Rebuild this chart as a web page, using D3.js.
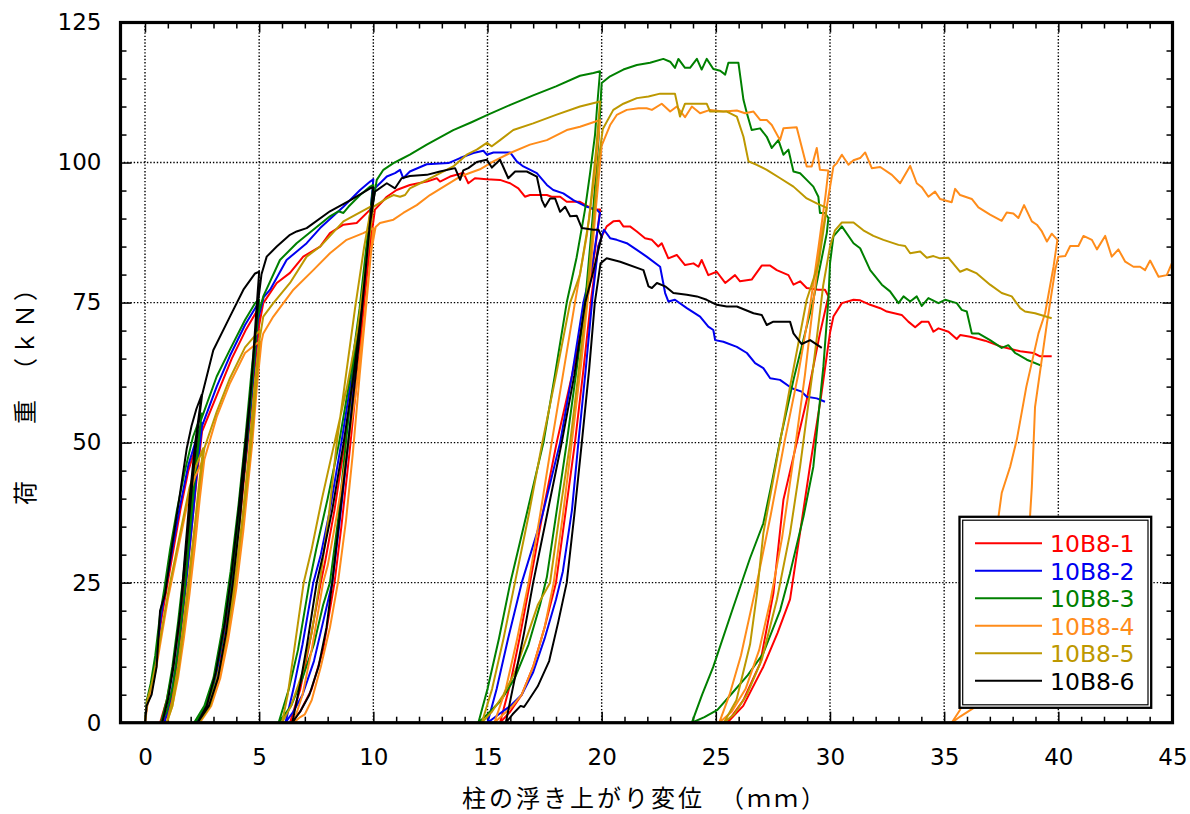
<!DOCTYPE html>
<html><head><meta charset="utf-8">
<script src="https://cdn.jsdelivr.net/npm/d3@7"></script>
<style>body{margin:0;background:#fff}svg{display:block}</style>
</head><body>
<svg id="chart" width="1190" height="814"></svg>
<script>
// ---------- data ----------
const seriesNames = ["10B8-1","10B8-2","10B8-3","10B8-4","10B8-5","10B8-6"];
const seriesColors = ["#ff0000","#0000f0","#008000","#ff8c1a","#bd9800","#000000"];
const xTickValues = [0,5,10,15,20,25,30,35,40,45];
const yTickValues = [0,25,50,75,100,125];
const xTitle = "柱の浮き上がり変位　（ｍｍ）";
const yTitle = "荷　　重　（ｋＮ）";

const load_10B8_1 = [[0,0],[0.1,4],[0.3,7],[0.5,12],[0.7,18],[0.95,24],[1.25,31],[1.55,38],[1.9,45],[2.2,49],[2.5,52],
[2.3,45],[2.1,37],[1.9,29],[1.7,21],[1.45,12],[1.2,5],[0.95,1],[0.66,0],
[0.95,4],[1.2,9],[1.45,16],[1.7,24],[1.95,33],[2.2,42],[2.5,52],
[3.2,59],[3.8,65],[4.4,70],[4.9,73.5],[5.0,74],
[4.85,66],[4.6,54],[4.35,44],[4.05,33],[3.75,23],[3.4,14],[3.0,7],[2.6,2],[2.25,0],
[2.75,3],[3.15,8],[3.5,16],[3.85,26],[4.2,38],[4.5,50],[4.75,61],[5.0,71],[5.18,74.9],
[5.77,78.5],[6.35,80.3],[6.93,83.2],[7.67,85],[8.1,87.4],[8.69,88.9],[9.27,89.2],[9.86,91.6],[9.95,92],
[9.75,83],[9.45,71],[9.1,60],[8.75,50],[8.3,38],[7.9,29],[7.7,25],[7.2,14],[6.8,6],[6.35,0],
[6.8,2],[7.3,6],[7.8,13],[8.3,25],[8.6,35],[8.95,48],[9.3,62],[9.6,75],[9.85,85],[10.07,91.6],
[10.59,93.9],[11.02,95.1],[11.6,96],[12.34,96.6],[12.78,97.2],[12.92,96.6],[13.36,97.5],[13.8,98],[13.94,98.2],[14.16,96.3],[14.45,97.2],[14.97,97],[15.55,96.9],[15.99,96.3],[16.35,95.4],[16.64,93.9],[16.86,94.2],[17.6,94.2],[17.81,93.9],[18.18,93.9],[18.47,93],[19.05,93],[19.64,91.6],[19.93,91.6],
[19.7,84],[19.35,75],[18.7,62],[18.03,50],[17.4,37],[16.86,25],[16.4,15],[16.0,7],[15.55,0],
[16.0,2],[16.5,5],[17.0,10],[17.5,17],[18.0,25],[18.4,37],[18.83,50],[19.2,63],[19.55,76],[19.85,85],[20.0,86.8],[20.22,88.6],
[20.51,89.5],[20.78,89.6],[20.95,88.6],[21.24,88.6],[21.54,87.7],[21.9,86.5],[22.2,86.2],[22.48,85],[22.63,85.6],[22.92,82.9],[23.29,83.5],[23.65,81.7],[24.02,82],[24.24,81.4],[24.38,82.6],[24.67,79.9],[25.04,80.5],[25.41,78.5],[25.84,79.9],[26.06,78.8],[26.57,79.1],[27.01,81.6],[27.38,81.6],[27.67,80.8],[28.18,79.9],[28.4,78.2],[28.69,78.8],[28.98,77.6],[29.49,77.3],[29.78,77.3],[29.93,76.1],
[29.56,69.5],[28.98,57.6],[28.4,47.5],[27.96,39.8],[27.52,23.1],[26.94,10.6],[26.2,4],[25.5,0],
[26.2,3],[27.08,10],[27.7,16],[28.25,22],[28.69,34],[29.13,46],[29.6,58],[30.0,69.6],[30.15,72.5],[30.52,74.9],
[31.03,75.5],[31.32,75.4],[31.76,74.6],[32.2,74],[32.49,73.4],[33.14,72.8],[33.43,71.6],[33.73,70.6],[34.02,71.6],[34.31,71.6],[34.53,69.8],[34.75,70.4],[35.19,69.8],[35.55,68.5],[35.7,69.2],[36.14,68.9],[36.79,68.2],[37.52,67.1],[38.33,66.3],[38.91,66],[39.2,65.4],[39.71,65.4]];

const load_10B8_2 = [[0,0],[0.1,4],[0.3,7],[0.5,12],[0.7,19],[0.9,24],[1.2,31],[1.5,38],[1.9,46],[2.2,50],[2.48,53.5],
[2.25,45],[2.0,35],[1.8,26],[1.6,18],[1.35,10],[1.1,4],[0.85,0],
[1.1,4],[1.35,10],[1.6,18],[1.85,27],[2.1,37],[2.3,46],[2.5,53],
[3.14,60],[3.72,65.5],[4.38,71],[4.9,74.5],[5.0,75],
[4.85,67],[4.6,55],[4.35,45],[4.05,34],[3.75,24],[3.4,15],[3.0,7],[2.6,2],[2.2,0],
[2.7,3],[3.1,8],[3.45,16],[3.8,26],[4.15,38],[4.45,50],[4.7,61],[4.95,72],[5.2,76],
[5.48,77.3],[6.2,82.6],[7.08,85.6],[7.67,88.3],[8.69,92.1],[9.42,95.1],[9.86,96.6],[10.0,97],
[9.8,88],[9.5,76],[9.1,63],[8.6,50],[8.1,38],[7.7,30],[7.37,25],[6.9,14],[6.5,6],[6.15,0],
[6.5,2],[6.9,5],[7.4,11],[7.8,18],[8.2,25],[8.5,35],[8.85,48],[9.2,62],[9.55,77],[9.8,88],[10.07,95.4],
[10.59,97.5],[10.95,98.1],[11.17,98.7],[11.31,97.2],[11.6,98.4],[12.34,99.7],[13.29,99.9],[13.8,100.8],[14.38,101.7],[14.82,102.1],[14.97,101.4],[15.26,101.8],[15.99,101.8],[16.28,100.2],[16.57,99.3],[17.16,98.1],[17.6,96],[17.88,95.1],[18.32,94.5],[18.76,93.3],[19.35,92.1],[19.78,91.6],[19.93,91],
[19.6,82],[19.2,75],[18.7,62],[18.18,50],[17.4,37],[16.5,25],[15.9,15],[15.4,6],[15.0,0],
[15.5,1.5],[16.0,3],[16.5,5],[17.0,9],[17.5,15],[18.0,22],[18.3,27],[18.7,38],[18.98,50],[19.3,63],[19.6,76],[19.85,85],[20.1,88],[20.37,86.5],
[20.66,86.2],[21.1,85.6],[21.54,84.4],[21.97,83.2],[22.56,81.4],[22.78,76.7],[22.92,75.2],[23.21,75.5],[23.73,74],[24.31,72.5],[24.67,70.7],[24.89,70.1],[24.97,68.3],[25.33,68],[25.92,67.1],[26.36,66],[26.72,64.2],[27.08,63.3],[27.38,61.5],[27.81,61.2],[28.33,59.7],[28.76,59.1],[28.98,58.2],[29.42,57.9],[29.78,57.3]];

const load_10B8_3 = [[0,0],[0.08,4],[0.25,7],[0.45,12],[0.65,19],[0.85,24],[1.1,31],[1.4,38],[1.75,45],[2.1,51],[2.48,55.2],
[2.3,48],[2.1,40],[1.9,31],[1.7,22],[1.45,13],[1.2,6],[0.95,2],[0.7,0],
[0.95,4],[1.2,10],[1.45,18],[1.7,27],[1.95,37],[2.2,46],[2.45,54],
[3.14,61.8],[3.72,66.6],[4.38,71.9],[4.82,74.9],[5.0,75.5],
[4.85,68],[4.6,56],[4.35,45],[4.05,34],[3.7,23],[3.35,14],[2.95,6],[2.5,1.5],[2.15,0],
[2.6,3],[3.0,8],[3.4,17],[3.75,27],[4.1,39],[4.4,51],[4.65,62],[4.9,72],[5.18,76.1],
[5.91,82.6],[6.64,85.6],[7.37,88],[8.1,90.4],[8.47,91.3],[8.69,91],[8.91,92.1],[9.42,94.2],[9.86,95.7],[10.0,96],
[9.75,87],[9.4,74],[9.0,62],[8.5,50],[8.0,40],[7.5,31],[7.2,25],[6.7,13],[6.3,6],[5.85,0],
[6.4,3],[6.9,8],[7.4,14],[7.8,21],[8.1,25],[8.45,36],[8.75,48],[9.1,62],[9.45,75],[9.75,87],[10.15,96.9],
[10.44,98.7],[10.88,99.9],[11.17,100.5],[11.6,101.4],[12.34,103.2],[13.5,105.8],[14.3,107.2],[15.0,108.5],[16.0,110.3],[17.0,112],[18.0,113.6],[19.05,115.5],[19.64,116],[19.93,116.3],
[19.8,110],[19.71,105],[19.49,98],[19.27,91.6],[18.9,83],[18.47,75],[17.95,62],[17.45,50],[16.7,37],[16.0,25],[15.5,15],[15.0,6],[14.6,0],
[15.0,1.5],[15.6,4],[16.2,8],[16.8,14],[17.3,21],[17.6,26],[18.0,37],[18.47,50],[18.9,63],[19.3,76],[19.6,90],[19.86,104],[20.0,114.2],[20.37,115.4],
[20.95,116.6],[21.54,117.4],[22.12,117.8],[22.7,118.5],[23,118],[23.21,116.9],[23.36,118.5],[23.65,116.9],[23.87,116.9],[24.17,118.5],[24.38,116.6],[24.6,118.5],[24.89,116.7],[25.19,116.4],[25.41,115.7],[25.55,117.8],[25.99,117.8],[26.21,111.2],[26.36,108.8],[26.57,105.8],[26.94,106.1],[27.23,104.6],[27.45,102.6],[27.74,104],[27.96,101.4],[28.18,102.3],[28.4,98.4],[28.69,98.1],[28.98,96.9],[29.27,95.7],[29.49,93.9],[29.56,91],[29.78,91],[29.93,90.1],
[29.86,87.4],[29.27,75.5],[28.4,61.2],[27.82,50.5],[27.45,42.8],[27.08,35.6],[26.5,29.4],[25.77,20.7],[24.89,10],[24.4,5],[23.95,0],
[24.5,1],[25.07,2.3],[25.72,5.3],[26.4,8.5],[27.08,12.4],[27.82,20.1],[28.25,26.7],[28.84,36.8],[29.27,45.7],[29.71,63.6],[29.93,75.5],[30.0,82],[30.15,86.8],
[30.52,88.6],[31.03,85.6],[31.32,84.7],[31.76,80.8],[32.27,78.2],[32.63,77],[33,74.9],[33.22,76.1],[33.51,75.2],[33.8,76.1],[34.02,74.4],[34.31,75.8],[34.75,74.9],[35.04,75.5],[35.55,74.9],[35.77,73.7],[35.99,73.4],[36.21,69.5],[36.5,69.5],[37.01,68.3],[37.52,66.9],[37.81,67.4],[38.11,66],[38.62,64.8],[39.28,63.7]];

const load_10B8_4 = [[0,0],[0.1,3],[0.3,6],[0.5,10],[0.75,16],[1.0,22],[1.3,28],[1.6,34],[1.9,40],[2.2,44],[2.55,47],
[2.35,40],[2.15,32],[1.95,24],[1.7,15],[1.45,8],[1.2,3],[0.95,0],
[1.2,3],[1.45,8],[1.7,15],[1.95,23],[2.2,32],[2.4,40],[2.6,47],
[3.14,54.6],[3.72,60.6],[4.38,66],[4.89,67.7],[5.05,68],
[4.9,60],[4.7,50],[4.45,40],[4.15,30],[3.85,21],[3.5,13],[3.1,6],[2.7,2],[2.4,0],
[2.9,3],[3.3,8],[3.65,15],[4.0,24],[4.3,34],[4.6,46],[4.85,58],[5.1,68],[5.18,69.5],
[5.62,72.5],[6.5,77.3],[7.37,80.8],[8.1,83.8],[8.83,86.2],[9.56,87.4],[9.86,88],[10.0,88.3],
[9.8,80],[9.55,70],[9.2,58],[8.8,47],[8.4,37],[8.0,28],[7.8,25],[7.3,13],[6.9,5],[6.5,0],
[6.8,1],[7.0,1.5],[7.3,4],[7.7,10],[8.1,17],[8.45,25],[8.8,36],[9.1,48],[9.4,62],[9.7,75],[9.9,84],[10.1,88.5],
[10.29,89.2],[10.88,89.8],[11.31,91],[11.9,92.4],[12.48,94.2],[13.21,96],[13.8,97.5],[14.67,98.8],[15.26,100.2],[15.99,101.7],[16.86,103.2],[17.6,104],[18.47,105.8],[19.05,106.4],[19.93,107.6],
[19.7,98],[19.35,87],[18.83,75],[18.3,62],[17.81,50],[17.3,37],[16.8,25],[16.3,15],[15.8,6],[15.3,0],
[15.7,1.5],[16.1,3],[16.5,5],[17.0,10],[17.5,17],[17.9,25],[18.3,37],[18.69,50],[19.1,64],[19.45,78],[19.75,92],[20.0,103],[20.37,106.7],
[20.66,108.5],[21.1,109.4],[21.61,109.7],[21.97,109.7],[22.2,109.4],[22.63,110.5],[23,109.1],[23.29,110],[23.65,108.1],[23.95,110],[24.31,108.8],[24.75,109.4],[25.33,109.1],[25.92,109.3],[26.28,108.8],[26.65,109.1],[26.94,107.6],[27.23,107.6],[27.45,106.7],[27.81,104],[27.96,106.1],[28.54,106.3],[28.98,99.3],[29.2,99.3],[29.42,102.6],[29.56,98.7],[29.93,98.6],
[29.8,94],[29.5,85],[29.15,75],[28.6,62],[28.0,50],[27.4,37],[26.8,25],[26.1,12],[25.6,5],[25.15,0],
[25.7,2],[26.3,6],[26.9,13],[27.4,22],[27.9,33],[28.5,50],[28.9,62],[29.27,75],[29.6,86],[29.86,92.1],[30.15,99.3],[30.3,99.9],
[30.52,101.4],[30.81,99.6],[31.03,100.4],[31.32,100.8],[31.54,101.8],[31.83,99],[32.2,99.2],[32.71,97.8],[33.07,96.3],[33.51,99.4],[33.8,96.3],[34.02,95.6],[34.31,93.9],[34.6,94.8],[34.82,93.5],[35.33,92.9],[35.48,95.3],[35.7,94.2],[36.21,93.5],[36.5,92],[37.01,90.7],[37.52,89.6],[37.74,91.1],[38.03,90.9],[38.25,90.1],[38.5,92.4],[38.84,89.5],[39.06,88.9],[39.28,87.7],[39.5,85.9],[39.71,87.3],[39.96,86.2],
[39.79,81.4],[39.42,73.1],[39.13,69.5],[38.6,60],[38.18,50.5],[37.89,45.7],[37.52,41],[37.38,36.8],[37.0,28],[36.5,17],[36.0,8],[35.7,2.3],[35.33,0],
[35.7,1.1],[36.28,2.6],[36.9,5],[37.5,10],[38.0,17],[38.4,26],[38.76,36.8],[38.84,42.1],[38.98,56.4],[39.5,71.3],[39.86,80.8],[40.0,83.2],
[40.3,83.3],[40.52,85.1],[40.88,85.1],[41.1,86.9],[41.47,86.2],[41.69,84.5],[42.05,86.9],[42.34,83.2],[42.63,84.5],[42.93,82.3],[43.29,81.4],[43.58,81.4],[43.8,80.8],[44.02,82.5],[44.39,79.6],[44.75,79.9],[44.97,82],[45.2,84]];

const load_10B8_5 = [[0,0],[0.1,4],[0.3,7],[0.5,11],[0.75,17],[1.05,24],[1.35,30],[1.65,36],[1.95,42],[2.25,46],[2.55,49],
[2.35,42],[2.15,34],[1.95,26],[1.7,17],[1.45,9],[1.2,3],[0.95,0],
[1.2,4],[1.45,10],[1.7,18],[1.95,27],[2.2,36],[2.4,43],[2.6,49],
[3.14,55.5],[3.72,61.5],[4.38,67],[4.9,69.5],[5.05,70],
[4.9,62],[4.7,52],[4.45,42],[4.15,32],[3.85,22],[3.5,14],[3.1,7],[2.7,2],[2.35,0],
[2.85,3],[3.25,9],[3.6,17],[3.95,26],[4.25,36],[4.55,48],[4.8,60],[5.0,68],[5.18,72.5],
[5.62,74.9],[6.35,78.5],[7.08,83.2],[7.67,85],[8.69,89.5],[9.86,92.1],[10.0,92.3],
[9.75,84],[9.3,70],[8.85,60],[8.3,50],[7.75,40],[7.3,31],[6.95,25],[6.5,12],[6.25,5],[6.0,0],
[6.4,3],[6.9,9],[7.3,16],[7.65,25],[8.05,37],[8.4,50],[8.8,62],[9.2,74],[9.6,85],[9.86,91],[10.0,92.1],
[10.59,93.6],[10.88,94.2],[11.17,93.9],[11.39,94.2],[11.6,95.4],[12.05,96.3],[12.63,97.5],[13.5,99.3],[14.09,101.4],[14.53,102.3],[14.97,103.5],[15.19,102.9],[15.55,104],[16.13,105.8],[17,107],[18,108.5],[19.05,110],[19.93,110.9],
[19.75,102],[19.45,90],[19.05,80],[18.62,75],[18.0,62],[17.4,50],[16.8,37],[16.2,25],[15.7,15],[15.2,6],[14.75,0],
[15.2,2],[15.7,5],[16.2,9],[16.7,15],[17.2,21],[17.74,25],[18.15,37],[18.62,50],[19.0,63],[19.35,76],[19.65,90],[19.85,100],[20.05,106],[20.51,109.4],
[20.95,110.5],[21.54,111.5],[22.05,111.8],[22.56,112.3],[23.21,112.3],[23.43,108.2],[23.65,110.5],[24.6,110.5],[24.75,109.1],[24.97,109.1],[25.48,109.1],[25.92,108.2],[26.21,104.6],[26.43,100.2],[26.79,99.6],[27.23,98.7],[27.82,97.2],[28.4,95.7],[28.98,93.6],[29.42,92.7],[29.86,91.9],
[29.5,82],[28.98,75.5],[28.25,60],[27.67,46.9],[27.08,33.8],[26.8,23],[26.5,14],[25.9,4],[25.35,0],
[25.8,1.5],[26.36,5],[27.01,11.2],[27.67,21.9],[28.25,33.8],[28.69,45.7],[29.27,63.6],[29.7,78],[30.0,85],[30.22,87.9],[30.52,89.3],
[31.03,89.3],[31.46,87.9],[31.9,86.9],[32.34,86.2],[33,85.3],[33.29,85.1],[33.51,83.8],[33.95,84.1],[34.24,83],[34.53,83.3],[34.82,82.9],[35.19,83],[35.7,80.5],[35.99,81],[36.43,80.2],[37.01,78.2],[37.52,76.7],[37.96,76.1],[38.33,74],[38.54,73.4],[38.98,73.1],[39.71,72.2]];

const load_10B8_6 = [[0,0],[0.07,3],[0.29,5],[0.51,10],[0.66,20],[0.88,23],[0.95,25],[1.2,32],[1.5,40],[1.83,49],[2.04,53],[2.25,56],[2.48,58.5],
[2.2,50],[1.95,40],[1.75,30],[1.55,20],[1.3,12],[1.05,5],[0.75,0],
[1.0,4],[1.25,10],[1.5,18],[1.7,26],[1.9,35],[2.1,44],[2.3,52],[2.5,58.5],
[2.99,66.5],[3.72,72.5],[4.31,77.3],[4.82,80.2],[5.0,80.5],
[4.85,72],[4.65,60],[4.4,50],[4.1,38],[3.8,27],[3.5,18],[3.1,9],[2.7,3],[2.3,0],
[2.8,3],[3.2,8],[3.55,16],[3.85,25],[4.15,36],[4.45,50],[4.7,63],[4.95,75],[5.1,80],
[5.33,83.2],[5.77,85],[6.35,87.1],[6.64,87.7],[7.08,88.3],[8.1,91.3],[9.0,93.3],[9.86,95.4],[10.0,95.6],
[9.8,87],[9.5,74],[9.1,61],[8.7,50],[8.2,38],[7.8,30],[7.52,25],[7.1,14],[6.8,7],[6.45,0],
[6.8,2],[7.2,5],[7.6,10],[7.95,17],[8.2,25],[8.5,36],[8.9,50],[9.25,63],[9.6,78],[9.85,89],[10.07,94.8],
[10.59,96.3],[10.95,95.4],[11.24,97.2],[11.6,97.6],[12.34,97.8],[12.92,98.4],[13.58,99],[13.8,96.9],[13.94,98.6],[14.16,99],[14.53,100.1],[14.97,100.5],[15.19,99.1],[15.55,100.5],[15.91,97.2],[16.21,98.4],[16.72,98.4],[17.16,97.5],[17.38,93.3],[17.52,92.1],[17.74,93.6],[17.96,93.6],[18.18,91.2],[18.4,92.1],[18.62,90.4],[18.91,90.5],[19.13,88.3],[19.64,88],[19.86,88],[20,86.8],
[19.6,80],[19.28,75],[18.8,62],[18.25,50],[17.6,37],[17.0,25],[16.6,16],[16.2,8],[15.8,0],
[16.1,1.5],[16.45,3],[16.6,2.8],[16.8,4],[17.2,6.5],[17.7,11],[18.1,18],[18.47,25],[18.8,37],[19.13,50],[19.45,63],[19.7,75],[19.95,82],[20.22,82.9],
[20.81,82.3],[21.83,80.8],[22.05,77.9],[22.2,77.6],[22.42,78.5],[22.78,77.9],[23.14,76.7],[23.73,76.4],[24.17,76.1],[24.6,75.5],[25.04,74.6],[25.48,74.3],[25.92,74.3],[26.65,73.1],[27.01,72.8],[27.23,71],[27.52,71.6],[28.25,71.6],[28.4,69.5],[28.76,67.6],[29.13,68.3],[29.64,66.9]];

const seriesData = [load_10B8_1, load_10B8_2, load_10B8_3, load_10B8_4, load_10B8_5, load_10B8_6];

// ---------- layout ----------
const svg = d3.select("#chart");
const frame = {left: 120.5, right: 1172.5, top: 22.5, bottom: 722.7};
const x = d3.scaleLinear().domain([0,45]).range([145, 1172.5]);
const y = d3.scaleLinear().domain([0,125]).range([722.7, 22.5]);
const numFont = "'DejaVu Sans', sans-serif";
const jpFont = "'Noto Sans CJK JP', sans-serif";

svg.append("rect").attr("width",1190).attr("height",814).attr("fill","#fff");

svg.append("defs").append("clipPath").attr("id","plotclip")
  .append("rect").attr("x",frame.left).attr("y",frame.top)
  .attr("width",frame.right-frame.left).attr("height",frame.bottom-frame.top);

// grid
const grid = svg.append("g").attr("stroke","#000").attr("stroke-width",1.4).attr("stroke-dasharray","1.4,1.9");
grid.selectAll("line.gx").data(xTickValues.filter(v=>v<45)).enter().append("line")
  .attr("x1",d=>x(d)).attr("x2",d=>x(d)).attr("y1",frame.top).attr("y2",frame.bottom);
grid.selectAll("line.gy").data(yTickValues.filter(v=>v>0 && v<125)).enter().append("line")
  .attr("y1",d=>y(d)).attr("y2",d=>y(d)).attr("x1",frame.left).attr("x2",frame.right);

// axes (inward ticks)
const minorX = d3.range(0,46,1).filter(v=>v%5!==0);
const minorY = d3.range(0,126,5).filter(v=>v%25!==0);
function styleAxis(g){ g.select(".domain").remove(); g.selectAll(".tick line").attr("stroke","#000").attr("stroke-width",1.5); }

svg.append("g").attr("transform",`translate(0,${frame.bottom})`)
  .call(d3.axisBottom(x).tickValues(xTickValues).tickSizeInner(-11).tickSizeOuter(0).tickPadding(26).tickFormat(d3.format("d")))
  .call(styleAxis)
  .call(g=>g.selectAll("text").attr("font-family",numFont).attr("font-size",23).attr("fill","#000"));
svg.append("g").attr("transform",`translate(0,${frame.bottom})`)
  .call(d3.axisBottom(x).tickValues(minorX).tickSizeInner(-6).tickSizeOuter(0).tickFormat(""))
  .call(styleAxis);
svg.append("g").attr("transform",`translate(0,${frame.top})`)
  .call(d3.axisTop(x).tickValues(xTickValues).tickSizeInner(-10).tickSizeOuter(0).tickFormat(""))
  .call(styleAxis);
svg.append("g").attr("transform",`translate(0,${frame.top})`)
  .call(d3.axisTop(x).tickValues(minorX).tickSizeInner(-6).tickSizeOuter(0).tickFormat(""))
  .call(styleAxis);

svg.append("g").attr("transform",`translate(${frame.left},0)`)
  .call(d3.axisLeft(y).tickValues(yTickValues).tickSizeInner(-11).tickSizeOuter(0).tickPadding(19).tickFormat(d3.format("d")))
  .call(styleAxis)
  .call(g=>g.selectAll("text").attr("font-family",numFont).attr("font-size",23).attr("fill","#000"));
svg.append("g").attr("transform",`translate(${frame.left},0)`)
  .call(d3.axisLeft(y).tickValues(minorY).tickSizeInner(-6).tickSizeOuter(0).tickFormat(""))
  .call(styleAxis);
svg.append("g").attr("transform",`translate(${frame.right},0)`)
  .call(d3.axisRight(y).tickValues(yTickValues).tickSizeInner(-10).tickSizeOuter(0).tickFormat(""))
  .call(styleAxis);
svg.append("g").attr("transform",`translate(${frame.right},0)`)
  .call(d3.axisRight(y).tickValues(minorY).tickSizeInner(-6).tickSizeOuter(0).tickFormat(""))
  .call(styleAxis);

// series
const line = d3.line().x(d=>x(d[0])).y(d=>y(d[1]));
const plot = svg.append("g").attr("clip-path","url(#plotclip)");
seriesData.forEach((s,i)=>{
  plot.append("path").datum(s).attr("d",line).attr("fill","none")
    .attr("stroke",seriesColors[i]).attr("stroke-width",2).attr("stroke-linejoin","round");
});

// frame
svg.append("rect").attr("x",frame.left).attr("y",frame.top)
  .attr("width",frame.right-frame.left).attr("height",frame.bottom-frame.top)
  .attr("fill","none").attr("stroke","#000").attr("stroke-width",3.2);

// legend
const lg = svg.append("g");
lg.append("rect").attr("x",959.5).attr("y",516.8).attr("width",191.7).attr("height",191)
  .attr("fill","#fff").attr("stroke","#000").attr("stroke-width",2.3);
lg.append("rect").attr("x",962.7).attr("y",520.2).attr("width",185.3).attr("height",184.6)
  .attr("fill","none").attr("stroke","#000").attr("stroke-width",1.2);
seriesNames.forEach((n,i)=>{
  const yy = 543.3 + i*27.5;
  lg.append("line").attr("x1",975).attr("x2",1042).attr("y1",yy).attr("y2",yy)
    .attr("stroke",seriesColors[i]).attr("stroke-width",2);
  lg.append("text").attr("x",1050).attr("y",yy+9).text(n)
    .attr("font-family",numFont).attr("font-size",23.5).attr("fill",seriesColors[i]);
});

// axis titles
svg.append("text").attr("x",462).attr("y",807).text(xTitle)
  .attr("font-family",jpFont).attr("font-size",24).attr("letter-spacing","3px").attr("fill","#000");
svg.append("text").attr("transform","translate(34,505) rotate(-90)").text(yTitle)
  .attr("font-family",jpFont).attr("font-size",24).attr("letter-spacing","3px").attr("fill","#000");
</script>
</body></html>
